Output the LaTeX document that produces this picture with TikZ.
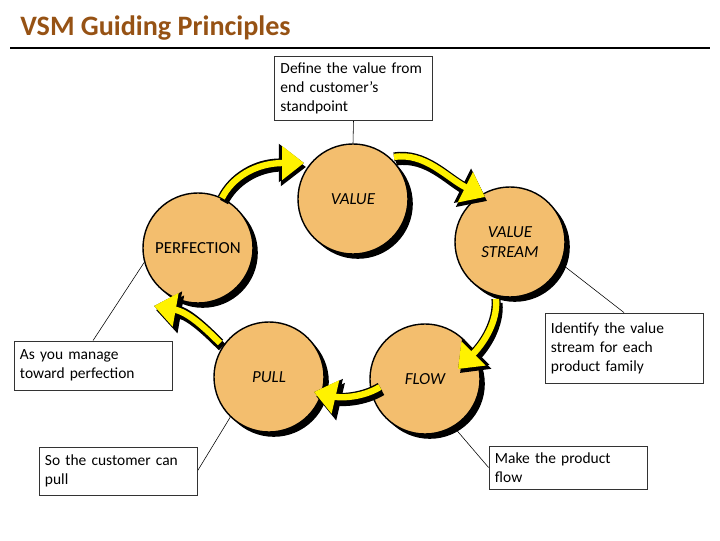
\documentclass[tikz,border=0pt]{standalone}
\usepackage{fontspec}
\setmainfont{Carlito}
\usepackage{tikz}
\usetikzlibrary{arrows.meta,shadows,calc}
\definecolor{circfill}{RGB}{243,190,110}
\definecolor{titlebrown}{RGB}{150,82,20}
\pgfdeclarelayer{back}
\pgfsetlayers{back,main}

\begin{document}
\begin{tikzpicture}[x=0.025cm,y=0.025cm]%
\useasboundingbox (0,0) rectangle (720,540);
\tikzstyle{lead}=[black,line width=0.4pt] %%
\tikzstyle{cyclearrow}=[draw=yellow,line width=4.5pt,-{Triangle[width=0.82cm,length=0.55cm]},
  preaction={draw=black,line width=6.5pt,transform canvas={shift={(0.05cm,-0.1cm)}},-{Triangle[width=0.92cm,length=0.63cm]}},
  preaction={draw=black,line width=6.5pt,-{Triangle[width=0.92cm,length=0.63cm]}}] %%
\node[anchor=base west,inner sep=0pt,text=titlebrown,font=\fontsize{20}{24}\selectfont\bfseries] (title) at (20,504) {VSM Guiding Principles}; %%
\draw[line width=0.8pt] (10,492)--(710,492);
\begin{scope}%
\tikzstyle{every node}=[draw,shape=circle,minimum size=2.75cm,inner sep=0pt,line width=1pt,fill=circfill,
  general shadow={fill=black,shadow xshift=0.12cm,shadow yshift=-0.12cm},align=center,font=\fontsize{12}{14}\selectfont\itshape] %%
\node (value) at (353,341) {VALUE}; %%
\node (stream) at (510,298) {VALUE\\STREAM}; %%
\node (flow) at (425,161) {FLOW}; %%
\node (pull) at (269,163) {PULL}; %%
\node[font=\fontsize{12}{14}\selectfont] (perfection) at (198,292) {PERFECTION}; %%
\end{scope}
\begin{scope}%
\tikzstyle{every node}=[draw=black!80,line width=0.6pt,shape=rectangle,align=left,text width=3.65cm,
  inner xsep=0.15cm,inner ysep=1pt,font=\fontsize{11}{13.5}\selectfont] %%
\node[minimum height=1.6cm] (define) at (353.5,452) {Define the value from\\end customer’s\\standpoint}; %%
\node[minimum height=1.225cm] (manage) at (93,174.5) {As you manage\\toward perfection}; %%
\node[minimum height=1.2cm] (pullbox) at (118,69) {So the customer can\\pull}; %%
\node[minimum height=1.75cm] (identify) at (624,192) {Identify the value\\stream for each\\product family}; %%
\node[minimum height=1.075cm] (flowbox) at (568,72.5) {Make the product\\flow}; %%
\end{scope}
\begin{pgfonlayer}{back}
\draw[lead] (define.south)--(value.north); %%
\draw[lead] (manage.north)--(perfection.195); %%
\draw[lead] (pullbox.east)--(pull.226); %%
\draw[lead] (identify.north)--(stream.337); %%
\draw[lead] (flowbox.west)--(flow.301); %%
\end{pgfonlayer}
\draw[cyclearrow] ($(perfection)+(24,50)$) .. controls (232,362) and (255,377) .. ($(value)+(-49,36)$); %%
\draw[cyclearrow] ($(value)+(41,42)$) .. controls (425,388) and (447,362) .. ($(stream)+(-25,45)$); %%
\draw[cyclearrow] ($(stream)+(-14,-57)$) .. controls (498,218) and (483,196) .. ($(flow)+(33,10)$); %%
\draw[cyclearrow] ($(flow)+(-45,-8)$) .. controls (362,142) and (340,142) .. ($(pull)+(45,-15)$); %%
\draw[cyclearrow] ($(pull)+(-49,34)$) .. controls (205,212) and (188,228) .. ($(perfection)+(-44,-58)$); %%
\end{tikzpicture}
\end{document}
